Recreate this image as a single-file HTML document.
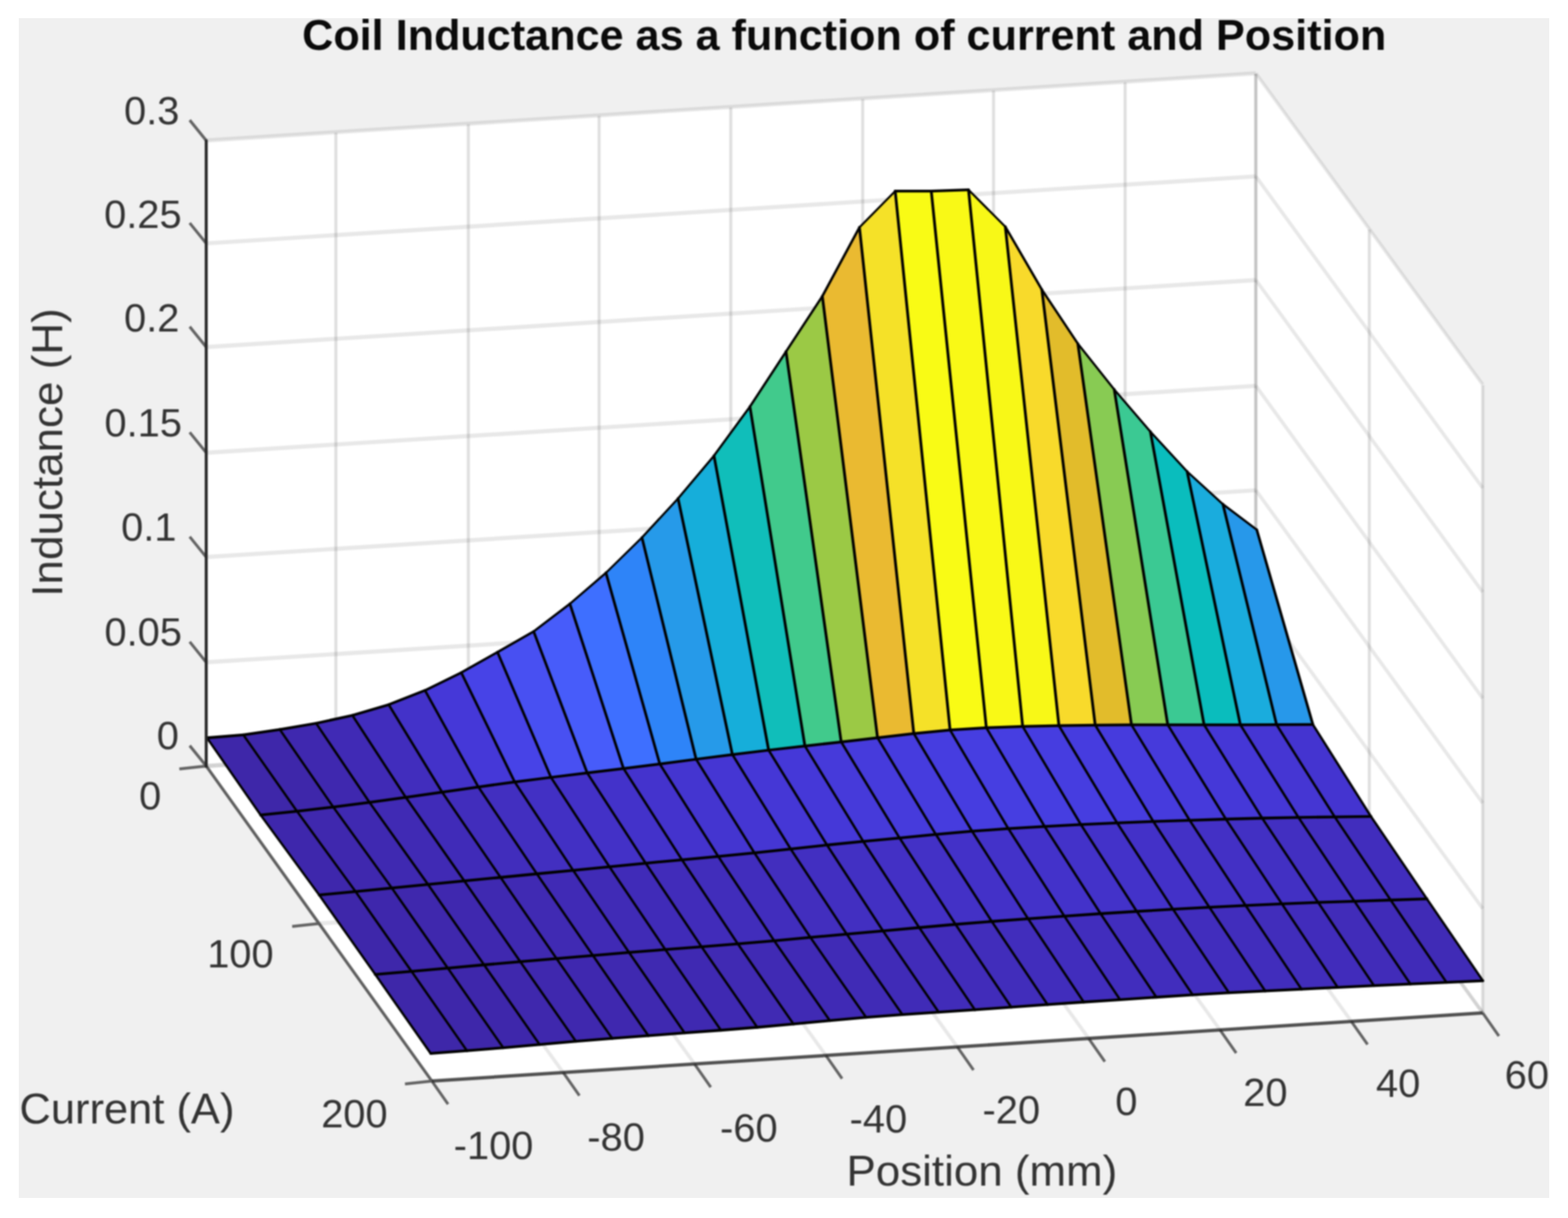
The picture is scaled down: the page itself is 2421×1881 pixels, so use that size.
<!DOCTYPE html>
<html lang="en"><head><meta charset="utf-8"><title>Coil Inductance as a function of current and Position</title>
<style>html,body{margin:0;padding:0;background:#fff}svg{display:block}</style></head>
<body>
<svg width="2421" height="1881" viewBox="0 0 2421 1881" font-family="'Liberation Sans', sans-serif">
<rect x="0" y="0" width="2421" height="1881" fill="#ffffff"/>
<rect x="29" y="28" width="2363" height="1822" fill="#f0f0f0"/>
<clipPath id="fig"><rect x="29" y="28" width="2363" height="1822"/></clipPath>
<filter id="soft" x="0" y="0" width="2421" height="1881" filterUnits="userSpaceOnUse" color-interpolation-filters="sRGB"><feGaussianBlur stdDeviation="1.3"/></filter>
<g clip-path="url(#fig)">
<g filter="url(#soft)">
<rect x="0" y="0" width="2421" height="1881" fill="#f0f0f0"/>
<polygon points="318.4,1183.0 1939.1,1080.0 1939.1,114.2 318.4,217.9" fill="#ffffff"/>
<polygon points="1939.1,1080.0 2289.3,1564.2 2289.3,594.8 1939.1,114.2" fill="#ffffff"/>
<polygon points="318.4,1183.0 1939.1,1080.0 2289.3,1564.2 666.8,1669.5" fill="#ffffff"/>
<path d="M318.4 1183.0L318.4 217.9" stroke="#262626" stroke-opacity="0.150" stroke-width="4.70" fill="none"/>
<path d="M318.4 1183.0L666.8 1669.5" stroke="#262626" stroke-opacity="0.105" stroke-width="5.40" fill="none"/>
<path d="M518.6 1170.1L518.6 204.9" stroke="#262626" stroke-opacity="0.150" stroke-width="4.70" fill="none"/>
<path d="M518.6 1170.1L869.6 1656.3" stroke="#262626" stroke-opacity="0.105" stroke-width="5.40" fill="none"/>
<path d="M723.1 1157.2L723.1 192.0" stroke="#262626" stroke-opacity="0.150" stroke-width="4.70" fill="none"/>
<path d="M723.1 1157.2L1072.4 1643.2" stroke="#262626" stroke-opacity="0.105" stroke-width="5.40" fill="none"/>
<path d="M925.0 1144.4L925.0 179.0" stroke="#262626" stroke-opacity="0.150" stroke-width="4.70" fill="none"/>
<path d="M925.0 1144.4L1275.2 1630.0" stroke="#262626" stroke-opacity="0.105" stroke-width="5.40" fill="none"/>
<path d="M1128.3 1131.5L1128.3 166.1" stroke="#262626" stroke-opacity="0.150" stroke-width="4.70" fill="none"/>
<path d="M1128.3 1131.5L1478.1 1616.8" stroke="#262626" stroke-opacity="0.105" stroke-width="5.40" fill="none"/>
<path d="M1332.0 1118.6L1332.0 153.1" stroke="#262626" stroke-opacity="0.150" stroke-width="4.70" fill="none"/>
<path d="M1332.0 1118.6L1680.9 1603.7" stroke="#262626" stroke-opacity="0.105" stroke-width="5.40" fill="none"/>
<path d="M1534.0 1105.8L1534.0 140.1" stroke="#262626" stroke-opacity="0.150" stroke-width="4.70" fill="none"/>
<path d="M1534.0 1105.8L1883.7 1590.5" stroke="#262626" stroke-opacity="0.105" stroke-width="5.40" fill="none"/>
<path d="M1737.2 1092.9L1737.2 127.2" stroke="#262626" stroke-opacity="0.150" stroke-width="4.70" fill="none"/>
<path d="M1737.2 1092.9L2086.5 1577.4" stroke="#262626" stroke-opacity="0.105" stroke-width="5.40" fill="none"/>
<path d="M1938.8 1080.0L1938.8 114.2" stroke="#262626" stroke-opacity="0.150" stroke-width="4.70" fill="none"/>
<path d="M1938.8 1080.0L2289.3 1564.2" stroke="#262626" stroke-opacity="0.105" stroke-width="5.40" fill="none"/>
<path d="M318.4 1183.0L1939.1 1080.0" stroke="#262626" stroke-opacity="0.105" stroke-width="6.40" fill="none"/>
<path d="M1939.1 1080.0L2289.3 1564.2" stroke="#262626" stroke-opacity="0.105" stroke-width="5.40" fill="none"/>
<path d="M318.4 1022.8L1939.1 919.6" stroke="#262626" stroke-opacity="0.105" stroke-width="6.40" fill="none"/>
<path d="M1939.1 919.6L2289.3 1403.2" stroke="#262626" stroke-opacity="0.105" stroke-width="5.40" fill="none"/>
<path d="M318.4 860.3L1939.1 757.1" stroke="#262626" stroke-opacity="0.105" stroke-width="6.40" fill="none"/>
<path d="M1939.1 757.1L2289.3 1240.1" stroke="#262626" stroke-opacity="0.105" stroke-width="5.40" fill="none"/>
<path d="M318.4 699.2L1939.1 595.9" stroke="#262626" stroke-opacity="0.105" stroke-width="6.40" fill="none"/>
<path d="M1939.1 595.9L2289.3 1078.3" stroke="#262626" stroke-opacity="0.105" stroke-width="5.40" fill="none"/>
<path d="M318.4 536.0L1939.1 432.5" stroke="#262626" stroke-opacity="0.105" stroke-width="6.40" fill="none"/>
<path d="M1939.1 432.5L2289.3 914.3" stroke="#262626" stroke-opacity="0.105" stroke-width="5.40" fill="none"/>
<path d="M318.4 375.9L1939.1 272.4" stroke="#262626" stroke-opacity="0.105" stroke-width="6.40" fill="none"/>
<path d="M1939.1 272.4L2289.3 753.6" stroke="#262626" stroke-opacity="0.105" stroke-width="5.40" fill="none"/>
<path d="M318.4 217.0L1939.1 113.3" stroke="#262626" stroke-opacity="0.105" stroke-width="6.40" fill="none"/>
<path d="M1939.1 113.3L2289.3 593.9" stroke="#262626" stroke-opacity="0.105" stroke-width="5.40" fill="none"/>
<path d="M1939.1 1080.0L1939.1 114.2" stroke="#262626" stroke-opacity="0.150" stroke-width="4.70" fill="none"/>
<path d="M318.4 1183.0L1939.1 1080.0" stroke="#262626" stroke-opacity="0.105" stroke-width="6.40" fill="none"/>
<path d="M2114.2 1322.1L2114.2 354.5" stroke="#262626" stroke-opacity="0.150" stroke-width="4.70" fill="none"/>
<path d="M492.6 1426.2L2114.2 1322.1" stroke="#262626" stroke-opacity="0.105" stroke-width="6.40" fill="none"/>
<path d="M2289.3 1564.2L2289.3 594.8" stroke="#262626" stroke-opacity="0.150" stroke-width="4.70" fill="none"/>
<path d="M666.8 1669.5L2289.3 1564.2" stroke="#262626" stroke-opacity="0.105" stroke-width="6.40" fill="none"/>
<g stroke-width="1" stroke-linejoin="round">
<polygon points="319.6,1139.5 375.8,1134.9 458.5,1252.8 402.5,1258.7" fill="#3e27a9" stroke="#3e27a9"/>
<polygon points="375.8,1134.9 432.0,1126.6 514.5,1246.3 458.5,1252.8" fill="#3e27aa" stroke="#3e27aa"/>
<polygon points="432.0,1126.6 488.1,1117.0 570.6,1239.2 514.5,1246.3" fill="#3f28af" stroke="#3f28af"/>
<polygon points="488.1,1117.0 544.1,1104.7 626.6,1231.4 570.6,1239.2" fill="#402ab5" stroke="#402ab5"/>
<polygon points="544.1,1104.7 600.2,1088.2 682.6,1223.3 626.6,1231.4" fill="#412dbd" stroke="#412dbd"/>
<polygon points="600.2,1088.2 656.2,1066.2 738.6,1215.3 682.6,1223.3" fill="#4332c9" stroke="#4332c9"/>
<polygon points="656.2,1066.2 712.2,1038.7 794.7,1207.6 738.6,1215.3" fill="#4538d8" stroke="#4538d8"/>
<polygon points="712.2,1038.7 768.1,1007.1 850.7,1200.5 794.7,1207.6" fill="#4743e7" stroke="#4743e7"/>
<polygon points="768.1,1007.1 824.0,975.2 906.7,1193.7 850.7,1200.5" fill="#4850f2" stroke="#4850f2"/>
<polygon points="824.0,975.2 879.9,932.5 962.7,1186.8 906.7,1193.7" fill="#475cfa" stroke="#475cfa"/>
<polygon points="879.9,932.5 935.6,884.6 1018.7,1179.8 962.7,1186.8" fill="#3e6fff" stroke="#3e6fff"/>
<polygon points="935.6,884.6 991.2,830.2 1074.8,1172.5 1018.7,1179.8" fill="#2e84f8" stroke="#2e84f8"/>
<polygon points="991.2,830.2 1046.9,769.8 1130.8,1165.3 1074.8,1172.5" fill="#269ae9" stroke="#269ae9"/>
<polygon points="1046.9,769.8 1102.4,703.8 1186.8,1158.5 1130.8,1165.3" fill="#16aeda" stroke="#16aeda"/>
<polygon points="1102.4,703.8 1157.9,628.0 1242.8,1152.1 1186.8,1158.5" fill="#10beba" stroke="#10beba"/>
<polygon points="1157.9,628.0 1213.6,543.0 1298.8,1145.8 1242.8,1152.1" fill="#41ca8c" stroke="#41ca8c"/>
<polygon points="1213.6,543.0 1269.7,457.5 1354.9,1139.3 1298.8,1145.8" fill="#9bc945" stroke="#9bc945"/>
<polygon points="1269.7,457.5 1327.0,351.2 1410.9,1132.8 1354.9,1139.3" fill="#eaba31" stroke="#eaba31"/>
<polygon points="1327.0,351.2 1382.2,295.2 1466.9,1127.4 1410.9,1132.8" fill="#f5e128" stroke="#f5e128"/>
<polygon points="1382.2,295.2 1437.9,295.2 1522.9,1123.9 1466.9,1127.4" fill="#f9fb15" stroke="#f9fb15"/>
<polygon points="1437.9,295.2 1495.4,293.2 1579.0,1121.9 1522.9,1123.9" fill="#f9f916" stroke="#f9f916"/>
<polygon points="1495.4,293.2 1552.2,350.1 1635.0,1120.7 1579.0,1121.9" fill="#f8f817" stroke="#f8f817"/>
<polygon points="1552.2,350.1 1608.6,447.3 1691.0,1119.8 1635.0,1120.7" fill="#f8da2b" stroke="#f8da2b"/>
<polygon points="1608.6,447.3 1664.2,530.8 1747.0,1119.4 1691.0,1119.8" fill="#e2bc2b" stroke="#e2bc2b"/>
<polygon points="1664.2,530.8 1720.4,601.5 1803.0,1119.3 1747.0,1119.4" fill="#88cb53" stroke="#88cb53"/>
<polygon points="1720.4,601.5 1776.2,666.6 1859.1,1119.3 1803.0,1119.3" fill="#3bc993" stroke="#3bc993"/>
<polygon points="1776.2,666.6 1832.9,728.1 1915.1,1119.3 1859.1,1119.3" fill="#0abdbd" stroke="#0abdbd"/>
<polygon points="1832.9,728.1 1888.2,778.7 1971.1,1119.2 1915.1,1119.3" fill="#1aacdd" stroke="#1aacdd"/>
<polygon points="1888.2,778.7 1940.5,818.2 2027.1,1118.9 1971.1,1119.2" fill="#2798ea" stroke="#2798ea"/>
<polygon points="402.5,1258.7 458.5,1252.8 548.9,1376.8 492.9,1382.2" fill="#3e27ac" stroke="#3e27ac"/>
<polygon points="458.5,1252.8 514.5,1246.3 604.9,1371.3 548.9,1376.8" fill="#3f28ae" stroke="#3f28ae"/>
<polygon points="514.5,1246.3 570.6,1239.2 660.9,1365.9 604.9,1371.3" fill="#3f29b1" stroke="#3f29b1"/>
<polygon points="570.6,1239.2 626.6,1231.4 716.9,1360.4 660.9,1365.9" fill="#402ab4" stroke="#402ab4"/>
<polygon points="626.6,1231.4 682.6,1223.3 772.9,1355.0 716.9,1360.4" fill="#402bb8" stroke="#402bb8"/>
<polygon points="682.6,1223.3 738.6,1215.3 828.9,1349.5 772.9,1355.0" fill="#412dbc" stroke="#412dbc"/>
<polygon points="738.6,1215.3 794.7,1207.6 884.9,1344.1 828.9,1349.5" fill="#422fc0" stroke="#422fc0"/>
<polygon points="794.7,1207.6 850.7,1200.5 940.9,1338.6 884.9,1344.1" fill="#4230c4" stroke="#4230c4"/>
<polygon points="850.7,1200.5 906.7,1193.7 996.9,1333.1 940.9,1338.6" fill="#4331c7" stroke="#4331c7"/>
<polygon points="906.7,1193.7 962.7,1186.8 1052.9,1327.8 996.9,1333.1" fill="#4332ca" stroke="#4332ca"/>
<polygon points="962.7,1186.8 1018.7,1179.8 1108.9,1322.6 1052.9,1327.8" fill="#4433cd" stroke="#4433cd"/>
<polygon points="1018.7,1179.8 1074.8,1172.5 1164.9,1317.2 1108.9,1322.6" fill="#4435d0" stroke="#4435d0"/>
<polygon points="1074.8,1172.5 1130.8,1165.3 1220.9,1311.2 1164.9,1317.2" fill="#4536d3" stroke="#4536d3"/>
<polygon points="1130.8,1165.3 1186.8,1158.5 1276.9,1305.0 1220.9,1311.2" fill="#4537d6" stroke="#4537d6"/>
<polygon points="1186.8,1158.5 1242.8,1152.1 1332.9,1299.4 1276.9,1305.0" fill="#4538d8" stroke="#4538d8"/>
<polygon points="1242.8,1152.1 1298.8,1145.8 1388.9,1294.1 1332.9,1299.4" fill="#463ada" stroke="#463ada"/>
<polygon points="1298.8,1145.8 1354.9,1139.3 1444.9,1288.6 1388.9,1294.1" fill="#463bdc" stroke="#463bdc"/>
<polygon points="1354.9,1139.3 1410.9,1132.8 1500.9,1283.7 1444.9,1288.6" fill="#463cde" stroke="#463cde"/>
<polygon points="1410.9,1132.8 1466.9,1127.4 1556.8,1279.6 1500.9,1283.7" fill="#463de0" stroke="#463de0"/>
<polygon points="1466.9,1127.4 1522.9,1123.9 1612.8,1276.3 1556.8,1279.6" fill="#463ee1" stroke="#463ee1"/>
<polygon points="1522.9,1123.9 1579.0,1121.9 1668.8,1273.3 1612.8,1276.3" fill="#463ee1" stroke="#463ee1"/>
<polygon points="1579.0,1121.9 1635.0,1120.7 1724.8,1270.8 1668.8,1273.3" fill="#463de0" stroke="#463de0"/>
<polygon points="1635.0,1120.7 1691.0,1119.8 1780.8,1268.7 1724.8,1270.8" fill="#463cdf" stroke="#463cdf"/>
<polygon points="1691.0,1119.8 1747.0,1119.4 1836.8,1266.8 1780.8,1268.7" fill="#463bdd" stroke="#463bdd"/>
<polygon points="1747.0,1119.4 1803.0,1119.3 1892.8,1265.0 1836.8,1266.8" fill="#463adb" stroke="#463adb"/>
<polygon points="1803.0,1119.3 1859.1,1119.3 1948.8,1263.5 1892.8,1265.0" fill="#4538d8" stroke="#4538d8"/>
<polygon points="1859.1,1119.3 1915.1,1119.3 2004.8,1262.3 1948.8,1263.5" fill="#4537d6" stroke="#4537d6"/>
<polygon points="1915.1,1119.3 1971.1,1119.2 2060.8,1261.6 2004.8,1262.3" fill="#4536d3" stroke="#4536d3"/>
<polygon points="1971.1,1119.2 2027.1,1118.9 2116.8,1260.9 2060.8,1261.6" fill="#4434d0" stroke="#4434d0"/>
<polygon points="492.9,1382.2 548.9,1376.8 635.4,1500.1 579.4,1504.8" fill="#3e27aa" stroke="#3e27aa"/>
<polygon points="548.9,1376.8 604.9,1371.3 691.4,1495.1 635.4,1500.1" fill="#3e27ac" stroke="#3e27ac"/>
<polygon points="604.9,1371.3 660.9,1365.9 747.4,1490.0 691.4,1495.1" fill="#3f28ad" stroke="#3f28ad"/>
<polygon points="660.9,1365.9 716.9,1360.4 803.4,1485.2 747.4,1490.0" fill="#3f28af" stroke="#3f28af"/>
<polygon points="716.9,1360.4 772.9,1355.0 859.4,1480.4 803.4,1485.2" fill="#3f29b1" stroke="#3f29b1"/>
<polygon points="772.9,1355.0 828.9,1349.5 915.4,1475.6 859.4,1480.4" fill="#402ab3" stroke="#402ab3"/>
<polygon points="828.9,1349.5 884.9,1344.1 971.3,1470.9 915.4,1475.6" fill="#402ab5" stroke="#402ab5"/>
<polygon points="884.9,1344.1 940.9,1338.6 1027.3,1466.4 971.3,1470.9" fill="#402bb6" stroke="#402bb6"/>
<polygon points="940.9,1338.6 996.9,1333.1 1083.3,1462.2 1027.3,1466.4" fill="#402bb8" stroke="#402bb8"/>
<polygon points="996.9,1333.1 1052.9,1327.8 1139.3,1457.7 1083.3,1462.2" fill="#412cba" stroke="#412cba"/>
<polygon points="1052.9,1327.8 1108.9,1322.6 1195.3,1452.8 1139.3,1457.7" fill="#412dbb" stroke="#412dbb"/>
<polygon points="1108.9,1322.6 1164.9,1317.2 1251.3,1447.7 1195.3,1452.8" fill="#412dbd" stroke="#412dbd"/>
<polygon points="1164.9,1317.2 1220.9,1311.2 1307.3,1442.6 1251.3,1447.7" fill="#422ebe" stroke="#422ebe"/>
<polygon points="1220.9,1311.2 1276.9,1305.0 1363.3,1437.6 1307.3,1442.6" fill="#422fc1" stroke="#422fc1"/>
<polygon points="1276.9,1305.0 1332.9,1299.4 1419.3,1432.5 1363.3,1437.6" fill="#4230c3" stroke="#4230c3"/>
<polygon points="1332.9,1299.4 1388.9,1294.1 1475.3,1427.5 1419.3,1432.5" fill="#4330c5" stroke="#4330c5"/>
<polygon points="1388.9,1294.1 1444.9,1288.6 1531.3,1423.0 1475.3,1427.5" fill="#4331c6" stroke="#4331c6"/>
<polygon points="1444.9,1288.6 1500.9,1283.7 1587.3,1418.8 1531.3,1423.0" fill="#4331c8" stroke="#4331c8"/>
<polygon points="1500.9,1283.7 1556.8,1279.6 1643.3,1414.8 1587.3,1418.8" fill="#4332c9" stroke="#4332c9"/>
<polygon points="1556.8,1279.6 1612.8,1276.3 1699.3,1411.0 1643.3,1414.8" fill="#4332ca" stroke="#4332ca"/>
<polygon points="1612.8,1276.3 1668.8,1273.3 1755.2,1407.5 1699.3,1411.0" fill="#4332c9" stroke="#4332c9"/>
<polygon points="1668.8,1273.3 1724.8,1270.8 1811.2,1404.2 1755.2,1407.5" fill="#4332c9" stroke="#4332c9"/>
<polygon points="1724.8,1270.8 1780.8,1268.7 1867.2,1401.1 1811.2,1404.2" fill="#4331c8" stroke="#4331c8"/>
<polygon points="1780.8,1268.7 1836.8,1266.8 1923.2,1398.3 1867.2,1401.1" fill="#4331c6" stroke="#4331c6"/>
<polygon points="1836.8,1266.8 1892.8,1265.0 1979.2,1395.8 1923.2,1398.3" fill="#4330c5" stroke="#4330c5"/>
<polygon points="1892.8,1265.0 1948.8,1263.5 2035.2,1393.6 1979.2,1395.8" fill="#4230c3" stroke="#4230c3"/>
<polygon points="1948.8,1263.5 2004.8,1262.3 2091.2,1391.8 2035.2,1393.6" fill="#422fc1" stroke="#422fc1"/>
<polygon points="2004.8,1262.3 2060.8,1261.6 2147.2,1390.0 2091.2,1391.8" fill="#422ebf" stroke="#422ebf"/>
<polygon points="2060.8,1261.6 2116.8,1260.9 2203.2,1388.2 2147.2,1390.0" fill="#412dbd" stroke="#412dbd"/>
<polygon points="579.4,1504.8 635.4,1500.1 721.0,1622.7 665.0,1626.9" fill="#3e27a9" stroke="#3e27a9"/>
<polygon points="635.4,1500.1 691.4,1495.1 777.0,1618.1 721.0,1622.7" fill="#3e27aa" stroke="#3e27aa"/>
<polygon points="691.4,1495.1 747.4,1490.0 833.1,1613.1 777.0,1618.1" fill="#3e27ab" stroke="#3e27ab"/>
<polygon points="747.4,1490.0 803.4,1485.2 889.1,1608.1 833.1,1613.1" fill="#3f28ad" stroke="#3f28ad"/>
<polygon points="803.4,1485.2 859.4,1480.4 945.1,1603.6 889.1,1608.1" fill="#3f28ae" stroke="#3f28ae"/>
<polygon points="859.4,1480.4 915.4,1475.6 1001.1,1599.4 945.1,1603.6" fill="#3f28af" stroke="#3f28af"/>
<polygon points="915.4,1475.6 971.3,1470.9 1057.1,1595.2 1001.1,1599.4" fill="#3f29b0" stroke="#3f29b0"/>
<polygon points="971.3,1470.9 1027.3,1466.4 1113.1,1591.0 1057.1,1595.2" fill="#3f29b1" stroke="#3f29b1"/>
<polygon points="1027.3,1466.4 1083.3,1462.2 1169.2,1586.5 1113.1,1591.0" fill="#3f29b2" stroke="#3f29b2"/>
<polygon points="1083.3,1462.2 1139.3,1457.7 1225.2,1581.4 1169.2,1586.5" fill="#402ab3" stroke="#402ab3"/>
<polygon points="1139.3,1457.7 1195.3,1452.8 1281.2,1576.1 1225.2,1581.4" fill="#402ab4" stroke="#402ab4"/>
<polygon points="1195.3,1452.8 1251.3,1447.7 1337.2,1571.1 1281.2,1576.1" fill="#402ab5" stroke="#402ab5"/>
<polygon points="1251.3,1447.7 1307.3,1442.6 1393.2,1566.8 1337.2,1571.1" fill="#402bb6" stroke="#402bb6"/>
<polygon points="1307.3,1442.6 1363.3,1437.6 1449.3,1563.1 1393.2,1566.8" fill="#402bb7" stroke="#402bb7"/>
<polygon points="1363.3,1437.6 1419.3,1432.5 1505.3,1559.4 1449.3,1563.1" fill="#412cb9" stroke="#412cb9"/>
<polygon points="1419.3,1432.5 1475.3,1427.5 1561.3,1555.3 1505.3,1559.4" fill="#412cba" stroke="#412cba"/>
<polygon points="1475.3,1427.5 1531.3,1423.0 1617.3,1551.3 1561.3,1555.3" fill="#412dbb" stroke="#412dbb"/>
<polygon points="1531.3,1423.0 1587.3,1418.8 1673.3,1547.5 1617.3,1551.3" fill="#412dbc" stroke="#412dbc"/>
<polygon points="1587.3,1418.8 1643.3,1414.8 1729.3,1543.8 1673.3,1547.5" fill="#412dbd" stroke="#412dbd"/>
<polygon points="1643.3,1414.8 1699.3,1411.0 1785.4,1540.0 1729.3,1543.8" fill="#412dbd" stroke="#412dbd"/>
<polygon points="1699.3,1411.0 1755.2,1407.5 1841.4,1536.3 1785.4,1540.0" fill="#412dbd" stroke="#412dbd"/>
<polygon points="1755.2,1407.5 1811.2,1404.2 1897.4,1533.1 1841.4,1536.3" fill="#412dbd" stroke="#412dbd"/>
<polygon points="1811.2,1404.2 1867.2,1401.1 1953.4,1530.3 1897.4,1533.1" fill="#412dbd" stroke="#412dbd"/>
<polygon points="1867.2,1401.1 1923.2,1398.3 2009.4,1527.6 1953.4,1530.3" fill="#412dbc" stroke="#412dbc"/>
<polygon points="1923.2,1398.3 1979.2,1395.8 2065.5,1524.9 2009.4,1527.6" fill="#412dbb" stroke="#412dbb"/>
<polygon points="1979.2,1395.8 2035.2,1393.6 2121.5,1522.2 2065.5,1524.9" fill="#412cbb" stroke="#412cbb"/>
<polygon points="2035.2,1393.6 2091.2,1391.8 2177.5,1519.6 2121.5,1522.2" fill="#412cb9" stroke="#412cb9"/>
<polygon points="2091.2,1391.8 2147.2,1390.0 2233.5,1517.2 2177.5,1519.6" fill="#402bb8" stroke="#402bb8"/>
<polygon points="2147.2,1390.0 2203.2,1388.2 2289.5,1514.6 2233.5,1517.2" fill="#402bb6" stroke="#402bb6"/>
</g>
<g stroke="#000" fill="none" stroke-linecap="round">
<path d="M319.6 1139.5L375.8 1134.9" stroke-width="4.29"/>
<path d="M375.8 1134.9L432.0 1126.6" stroke-width="4.25"/>
<path d="M432.0 1126.6L488.1 1117.0" stroke-width="4.24"/>
<path d="M488.1 1117.0L544.1 1104.7" stroke-width="4.20"/>
<path d="M544.1 1104.7L600.2 1088.2" stroke-width="4.12"/>
<path d="M600.2 1088.2L656.2 1066.2" stroke-width="4.01"/>
<path d="M656.2 1066.2L712.2 1038.7" stroke-width="3.87"/>
<path d="M712.2 1038.7L768.1 1007.1" stroke-width="3.77"/>
<path d="M768.1 1007.1L824.0 975.2" stroke-width="3.76"/>
<path d="M824.0 975.2L879.9 932.5" stroke-width="3.49"/>
<path d="M879.9 932.5L935.6 884.6" stroke-width="3.37"/>
<path d="M935.6 884.6L991.2 830.2" stroke-width="3.22"/>
<path d="M991.2 830.2L1046.9 769.8" stroke-width="3.29"/>
<path d="M1046.9 769.8L1102.4 703.8" stroke-width="3.39"/>
<path d="M1102.4 703.8L1157.9 628.0" stroke-width="3.53"/>
<path d="M1157.9 628.0L1213.6 543.0" stroke-width="3.64"/>
<path d="M1213.6 543.0L1269.7 457.5" stroke-width="3.64"/>
<path d="M1269.7 457.5L1327.0 351.2" stroke-width="3.80"/>
<path d="M1327.0 351.2L1382.2 295.2" stroke-width="3.21"/>
<path d="M1382.2 295.2L1437.9 295.2" stroke-width="4.30"/>
<path d="M1437.9 295.2L1495.4 293.2" stroke-width="4.30"/>
<path d="M1495.4 293.2L1552.2 350.1" stroke-width="3.20"/>
<path d="M1552.2 350.1L1608.6 447.3" stroke-width="3.75"/>
<path d="M1608.6 447.3L1664.2 530.8" stroke-width="3.62"/>
<path d="M1664.2 530.8L1720.4 601.5" stroke-width="3.45"/>
<path d="M1720.4 601.5L1776.2 666.6" stroke-width="3.37"/>
<path d="M1776.2 666.6L1832.9 728.1" stroke-width="3.29"/>
<path d="M1832.9 728.1L1888.2 778.7" stroke-width="3.30"/>
<path d="M1888.2 778.7L1940.5 818.2" stroke-width="3.50"/>
<path d="M402.5 1258.7L458.5 1252.8" stroke-width="4.28"/>
<path d="M458.5 1252.8L514.5 1246.3" stroke-width="4.27"/>
<path d="M514.5 1246.3L570.6 1239.2" stroke-width="4.26"/>
<path d="M570.6 1239.2L626.6 1231.4" stroke-width="4.26"/>
<path d="M626.6 1231.4L682.6 1223.3" stroke-width="4.25"/>
<path d="M682.6 1223.3L738.6 1215.3" stroke-width="4.26"/>
<path d="M738.6 1215.3L794.7 1207.6" stroke-width="4.26"/>
<path d="M794.7 1207.6L850.7 1200.5" stroke-width="4.27"/>
<path d="M850.7 1200.5L906.7 1193.7" stroke-width="4.27"/>
<path d="M906.7 1193.7L962.7 1186.8" stroke-width="4.27"/>
<path d="M962.7 1186.8L1018.7 1179.8" stroke-width="4.27"/>
<path d="M1018.7 1179.8L1074.8 1172.5" stroke-width="4.26"/>
<path d="M1074.8 1172.5L1130.8 1165.3" stroke-width="4.26"/>
<path d="M1130.8 1165.3L1186.8 1158.5" stroke-width="4.27"/>
<path d="M1186.8 1158.5L1242.8 1152.1" stroke-width="4.27"/>
<path d="M1242.8 1152.1L1298.8 1145.8" stroke-width="4.27"/>
<path d="M1298.8 1145.8L1354.9 1139.3" stroke-width="4.27"/>
<path d="M1354.9 1139.3L1410.9 1132.8" stroke-width="4.27"/>
<path d="M1410.9 1132.8L1466.9 1127.4" stroke-width="4.28"/>
<path d="M1466.9 1127.4L1522.9 1123.9" stroke-width="4.29"/>
<path d="M1522.9 1123.9L1579.0 1121.9" stroke-width="4.30"/>
<path d="M1579.0 1121.9L1635.0 1120.7" stroke-width="4.30"/>
<path d="M1635.0 1120.7L1691.0 1119.8" stroke-width="4.30"/>
<path d="M1691.0 1119.8L1747.0 1119.4" stroke-width="4.30"/>
<path d="M1747.0 1119.4L1803.0 1119.3" stroke-width="4.30"/>
<path d="M1803.0 1119.3L1859.1 1119.3" stroke-width="4.30"/>
<path d="M1859.1 1119.3L1915.1 1119.3" stroke-width="4.30"/>
<path d="M1915.1 1119.3L1971.1 1119.2" stroke-width="4.30"/>
<path d="M1971.1 1119.2L2027.1 1118.9" stroke-width="4.30"/>
<path d="M492.9 1382.2L548.9 1376.8" stroke-width="4.28"/>
<path d="M548.9 1376.8L604.9 1371.3" stroke-width="4.28"/>
<path d="M604.9 1371.3L660.9 1365.9" stroke-width="4.28"/>
<path d="M660.9 1365.9L716.9 1360.4" stroke-width="4.28"/>
<path d="M716.9 1360.4L772.9 1355.0" stroke-width="4.28"/>
<path d="M772.9 1355.0L828.9 1349.5" stroke-width="4.28"/>
<path d="M828.9 1349.5L884.9 1344.1" stroke-width="4.28"/>
<path d="M884.9 1344.1L940.9 1338.6" stroke-width="4.28"/>
<path d="M940.9 1338.6L996.9 1333.1" stroke-width="4.28"/>
<path d="M996.9 1333.1L1052.9 1327.8" stroke-width="4.28"/>
<path d="M1052.9 1327.8L1108.9 1322.6" stroke-width="4.28"/>
<path d="M1108.9 1322.6L1164.9 1317.2" stroke-width="4.28"/>
<path d="M1164.9 1317.2L1220.9 1311.2" stroke-width="4.28"/>
<path d="M1220.9 1311.2L1276.9 1305.0" stroke-width="4.27"/>
<path d="M1276.9 1305.0L1332.9 1299.4" stroke-width="4.28"/>
<path d="M1332.9 1299.4L1388.9 1294.1" stroke-width="4.28"/>
<path d="M1388.9 1294.1L1444.9 1288.6" stroke-width="4.28"/>
<path d="M1444.9 1288.6L1500.9 1283.7" stroke-width="4.28"/>
<path d="M1500.9 1283.7L1556.8 1279.6" stroke-width="4.29"/>
<path d="M1556.8 1279.6L1612.8 1276.3" stroke-width="4.29"/>
<path d="M1612.8 1276.3L1668.8 1273.3" stroke-width="4.29"/>
<path d="M1668.8 1273.3L1724.8 1270.8" stroke-width="4.30"/>
<path d="M1724.8 1270.8L1780.8 1268.7" stroke-width="4.30"/>
<path d="M1780.8 1268.7L1836.8 1266.8" stroke-width="4.30"/>
<path d="M1836.8 1266.8L1892.8 1265.0" stroke-width="4.30"/>
<path d="M1892.8 1265.0L1948.8 1263.5" stroke-width="4.30"/>
<path d="M1948.8 1263.5L2004.8 1262.3" stroke-width="4.30"/>
<path d="M2004.8 1262.3L2060.8 1261.6" stroke-width="4.30"/>
<path d="M2060.8 1261.6L2116.8 1260.9" stroke-width="4.30"/>
<path d="M579.4 1504.8L635.4 1500.1" stroke-width="4.28"/>
<path d="M635.4 1500.1L691.4 1495.1" stroke-width="4.28"/>
<path d="M691.4 1495.1L747.4 1490.0" stroke-width="4.28"/>
<path d="M747.4 1490.0L803.4 1485.2" stroke-width="4.28"/>
<path d="M803.4 1485.2L859.4 1480.4" stroke-width="4.28"/>
<path d="M859.4 1480.4L915.4 1475.6" stroke-width="4.28"/>
<path d="M915.4 1475.6L971.3 1470.9" stroke-width="4.28"/>
<path d="M971.3 1470.9L1027.3 1466.4" stroke-width="4.29"/>
<path d="M1027.3 1466.4L1083.3 1462.2" stroke-width="4.29"/>
<path d="M1083.3 1462.2L1139.3 1457.7" stroke-width="4.29"/>
<path d="M1139.3 1457.7L1195.3 1452.8" stroke-width="4.28"/>
<path d="M1195.3 1452.8L1251.3 1447.7" stroke-width="4.28"/>
<path d="M1251.3 1447.7L1307.3 1442.6" stroke-width="4.28"/>
<path d="M1307.3 1442.6L1363.3 1437.6" stroke-width="4.28"/>
<path d="M1363.3 1437.6L1419.3 1432.5" stroke-width="4.28"/>
<path d="M1419.3 1432.5L1475.3 1427.5" stroke-width="4.28"/>
<path d="M1475.3 1427.5L1531.3 1423.0" stroke-width="4.29"/>
<path d="M1531.3 1423.0L1587.3 1418.8" stroke-width="4.29"/>
<path d="M1587.3 1418.8L1643.3 1414.8" stroke-width="4.29"/>
<path d="M1643.3 1414.8L1699.3 1411.0" stroke-width="4.29"/>
<path d="M1699.3 1411.0L1755.2 1407.5" stroke-width="4.29"/>
<path d="M1755.2 1407.5L1811.2 1404.2" stroke-width="4.29"/>
<path d="M1811.2 1404.2L1867.2 1401.1" stroke-width="4.29"/>
<path d="M1867.2 1401.1L1923.2 1398.3" stroke-width="4.29"/>
<path d="M1923.2 1398.3L1979.2 1395.8" stroke-width="4.30"/>
<path d="M1979.2 1395.8L2035.2 1393.6" stroke-width="4.30"/>
<path d="M2035.2 1393.6L2091.2 1391.8" stroke-width="4.30"/>
<path d="M2091.2 1391.8L2147.2 1390.0" stroke-width="4.30"/>
<path d="M2147.2 1390.0L2203.2 1388.2" stroke-width="4.30"/>
<path d="M665.0 1626.9L721.0 1622.7" stroke-width="4.29"/>
<path d="M721.0 1622.7L777.0 1618.1" stroke-width="4.29"/>
<path d="M777.0 1618.1L833.1 1613.1" stroke-width="4.28"/>
<path d="M833.1 1613.1L889.1 1608.1" stroke-width="4.28"/>
<path d="M889.1 1608.1L945.1 1603.6" stroke-width="4.29"/>
<path d="M945.1 1603.6L1001.1 1599.4" stroke-width="4.29"/>
<path d="M1001.1 1599.4L1057.1 1595.2" stroke-width="4.29"/>
<path d="M1057.1 1595.2L1113.1 1591.0" stroke-width="4.29"/>
<path d="M1113.1 1591.0L1169.2 1586.5" stroke-width="4.29"/>
<path d="M1169.2 1586.5L1225.2 1581.4" stroke-width="4.28"/>
<path d="M1225.2 1581.4L1281.2 1576.1" stroke-width="4.28"/>
<path d="M1281.2 1576.1L1337.2 1571.1" stroke-width="4.28"/>
<path d="M1337.2 1571.1L1393.2 1566.8" stroke-width="4.29"/>
<path d="M1393.2 1566.8L1449.3 1563.1" stroke-width="4.29"/>
<path d="M1449.3 1563.1L1505.3 1559.4" stroke-width="4.29"/>
<path d="M1505.3 1559.4L1561.3 1555.3" stroke-width="4.29"/>
<path d="M1561.3 1555.3L1617.3 1551.3" stroke-width="4.29"/>
<path d="M1617.3 1551.3L1673.3 1547.5" stroke-width="4.29"/>
<path d="M1673.3 1547.5L1729.3 1543.8" stroke-width="4.29"/>
<path d="M1729.3 1543.8L1785.4 1540.0" stroke-width="4.29"/>
<path d="M1785.4 1540.0L1841.4 1536.3" stroke-width="4.29"/>
<path d="M1841.4 1536.3L1897.4 1533.1" stroke-width="4.29"/>
<path d="M1897.4 1533.1L1953.4 1530.3" stroke-width="4.29"/>
<path d="M1953.4 1530.3L2009.4 1527.6" stroke-width="4.29"/>
<path d="M2009.4 1527.6L2065.5 1524.9" stroke-width="4.29"/>
<path d="M2065.5 1524.9L2121.5 1522.2" stroke-width="4.29"/>
<path d="M2121.5 1522.2L2177.5 1519.6" stroke-width="4.30"/>
<path d="M2177.5 1519.6L2233.5 1517.2" stroke-width="4.30"/>
<path d="M2233.5 1517.2L2289.5 1514.6" stroke-width="4.30"/>
<path d="M319.6 1139.5L402.5 1258.7" stroke-width="3.58"/>
<path d="M402.5 1258.7L492.9 1382.2" stroke-width="3.53"/>
<path d="M492.9 1382.2L579.4 1504.8" stroke-width="3.57"/>
<path d="M579.4 1504.8L665.0 1626.9" stroke-width="3.58"/>
<path d="M375.8 1134.9L458.5 1252.8" stroke-width="3.57"/>
<path d="M458.5 1252.8L548.9 1376.8" stroke-width="3.54"/>
<path d="M548.9 1376.8L635.4 1500.1" stroke-width="3.57"/>
<path d="M635.4 1500.1L721.0 1622.7" stroke-width="3.58"/>
<path d="M432.0 1126.6L514.5 1246.3" stroke-width="3.59"/>
<path d="M514.5 1246.3L604.9 1371.3" stroke-width="3.54"/>
<path d="M604.9 1371.3L691.4 1495.1" stroke-width="3.58"/>
<path d="M691.4 1495.1L777.0 1618.1" stroke-width="3.58"/>
<path d="M488.1 1117.0L570.6 1239.2" stroke-width="3.61"/>
<path d="M570.6 1239.2L660.9 1365.9" stroke-width="3.56"/>
<path d="M660.9 1365.9L747.4 1490.0" stroke-width="3.58"/>
<path d="M747.4 1490.0L833.1 1613.1" stroke-width="3.58"/>
<path d="M544.1 1104.7L626.6 1231.4" stroke-width="3.65"/>
<path d="M626.6 1231.4L716.9 1360.4" stroke-width="3.58"/>
<path d="M716.9 1360.4L803.4 1485.2" stroke-width="3.59"/>
<path d="M803.4 1485.2L889.1 1608.1" stroke-width="3.58"/>
<path d="M600.2 1088.2L682.6 1223.3" stroke-width="3.70"/>
<path d="M682.6 1223.3L772.9 1355.0" stroke-width="3.60"/>
<path d="M772.9 1355.0L859.4 1480.4" stroke-width="3.59"/>
<path d="M859.4 1480.4L945.1 1603.6" stroke-width="3.58"/>
<path d="M656.2 1066.2L738.6 1215.3" stroke-width="3.78"/>
<path d="M738.6 1215.3L828.9 1349.5" stroke-width="3.62"/>
<path d="M828.9 1349.5L915.4 1475.6" stroke-width="3.60"/>
<path d="M915.4 1475.6L1001.1 1599.4" stroke-width="3.59"/>
<path d="M712.2 1038.7L794.7 1207.6" stroke-width="3.88"/>
<path d="M794.7 1207.6L884.9 1344.1" stroke-width="3.63"/>
<path d="M884.9 1344.1L971.3 1470.9" stroke-width="3.60"/>
<path d="M971.3 1470.9L1057.1 1595.2" stroke-width="3.59"/>
<path d="M768.1 1007.1L850.7 1200.5" stroke-width="3.96"/>
<path d="M850.7 1200.5L940.9 1338.6" stroke-width="3.64"/>
<path d="M940.9 1338.6L1027.3 1466.4" stroke-width="3.61"/>
<path d="M1027.3 1466.4L1113.1 1591.0" stroke-width="3.59"/>
<path d="M824.0 975.2L906.7 1193.7" stroke-width="4.02"/>
<path d="M906.7 1193.7L996.9 1333.1" stroke-width="3.65"/>
<path d="M996.9 1333.1L1083.3 1462.2" stroke-width="3.62"/>
<path d="M1083.3 1462.2L1169.2 1586.5" stroke-width="3.59"/>
<path d="M879.9 932.5L962.7 1186.8" stroke-width="4.09"/>
<path d="M962.7 1186.8L1052.9 1327.8" stroke-width="3.66"/>
<path d="M1052.9 1327.8L1139.3 1457.7" stroke-width="3.62"/>
<path d="M1139.3 1457.7L1225.2 1581.4" stroke-width="3.58"/>
<path d="M935.6 884.6L1018.7 1179.8" stroke-width="4.14"/>
<path d="M1018.7 1179.8L1108.9 1322.6" stroke-width="3.67"/>
<path d="M1108.9 1322.6L1195.3 1452.8" stroke-width="3.63"/>
<path d="M1195.3 1452.8L1281.2 1576.1" stroke-width="3.58"/>
<path d="M991.2 830.2L1074.8 1172.5" stroke-width="4.18"/>
<path d="M1074.8 1172.5L1164.9 1317.2" stroke-width="3.69"/>
<path d="M1164.9 1317.2L1251.3 1447.7" stroke-width="3.63"/>
<path d="M1251.3 1447.7L1337.2 1571.1" stroke-width="3.58"/>
<path d="M1046.9 769.8L1130.8 1165.3" stroke-width="4.21"/>
<path d="M1130.8 1165.3L1220.9 1311.2" stroke-width="3.69"/>
<path d="M1220.9 1311.2L1307.3 1442.6" stroke-width="3.64"/>
<path d="M1307.3 1442.6L1393.2 1566.8" stroke-width="3.59"/>
<path d="M1102.4 703.8L1186.8 1158.5" stroke-width="4.23"/>
<path d="M1186.8 1158.5L1276.9 1305.0" stroke-width="3.70"/>
<path d="M1276.9 1305.0L1363.3 1437.6" stroke-width="3.64"/>
<path d="M1363.3 1437.6L1449.3 1563.1" stroke-width="3.60"/>
<path d="M1157.9 628.0L1242.8 1152.1" stroke-width="4.24"/>
<path d="M1242.8 1152.1L1332.9 1299.4" stroke-width="3.70"/>
<path d="M1332.9 1299.4L1419.3 1432.5" stroke-width="3.65"/>
<path d="M1419.3 1432.5L1505.3 1559.4" stroke-width="3.61"/>
<path d="M1213.6 543.0L1298.8 1145.8" stroke-width="4.26"/>
<path d="M1298.8 1145.8L1388.9 1294.1" stroke-width="3.71"/>
<path d="M1388.9 1294.1L1475.3 1427.5" stroke-width="3.65"/>
<path d="M1475.3 1427.5L1561.3 1555.3" stroke-width="3.61"/>
<path d="M1269.7 457.5L1354.9 1139.3" stroke-width="4.27"/>
<path d="M1354.9 1139.3L1444.9 1288.6" stroke-width="3.71"/>
<path d="M1444.9 1288.6L1531.3 1423.0" stroke-width="3.66"/>
<path d="M1531.3 1423.0L1617.3 1551.3" stroke-width="3.62"/>
<path d="M1327.0 351.2L1410.9 1132.8" stroke-width="4.27"/>
<path d="M1410.9 1132.8L1500.9 1283.7" stroke-width="3.72"/>
<path d="M1500.9 1283.7L1587.3 1418.8" stroke-width="3.66"/>
<path d="M1587.3 1418.8L1673.3 1547.5" stroke-width="3.62"/>
<path d="M1382.2 295.2L1466.9 1127.4" stroke-width="4.28"/>
<path d="M1466.9 1127.4L1556.8 1279.6" stroke-width="3.73"/>
<path d="M1556.8 1279.6L1643.3 1414.8" stroke-width="3.66"/>
<path d="M1643.3 1414.8L1729.3 1543.8" stroke-width="3.62"/>
<path d="M1437.9 295.2L1522.9 1123.9" stroke-width="4.28"/>
<path d="M1522.9 1123.9L1612.8 1276.3" stroke-width="3.73"/>
<path d="M1612.8 1276.3L1699.3 1411.0" stroke-width="3.66"/>
<path d="M1699.3 1411.0L1785.4 1540.0" stroke-width="3.62"/>
<path d="M1495.4 293.2L1579.0 1121.9" stroke-width="4.28"/>
<path d="M1579.0 1121.9L1668.8 1273.3" stroke-width="3.73"/>
<path d="M1668.8 1273.3L1755.2 1407.5" stroke-width="3.66"/>
<path d="M1755.2 1407.5L1841.4 1536.3" stroke-width="3.62"/>
<path d="M1552.2 350.1L1635.0 1120.7" stroke-width="4.27"/>
<path d="M1635.0 1120.7L1724.8 1270.8" stroke-width="3.72"/>
<path d="M1724.8 1270.8L1811.2 1404.2" stroke-width="3.65"/>
<path d="M1811.2 1404.2L1897.4 1533.1" stroke-width="3.62"/>
<path d="M1608.6 447.3L1691.0 1119.8" stroke-width="4.27"/>
<path d="M1691.0 1119.8L1780.8 1268.7" stroke-width="3.71"/>
<path d="M1780.8 1268.7L1867.2 1401.1" stroke-width="3.64"/>
<path d="M1867.2 1401.1L1953.4 1530.3" stroke-width="3.62"/>
<path d="M1664.2 530.8L1747.0 1119.4" stroke-width="4.26"/>
<path d="M1747.0 1119.4L1836.8 1266.8" stroke-width="3.70"/>
<path d="M1836.8 1266.8L1923.2 1398.3" stroke-width="3.64"/>
<path d="M1923.2 1398.3L2009.4 1527.6" stroke-width="3.62"/>
<path d="M1720.4 601.5L1803.0 1119.3" stroke-width="4.25"/>
<path d="M1803.0 1119.3L1892.8 1265.0" stroke-width="3.69"/>
<path d="M1892.8 1265.0L1979.2 1395.8" stroke-width="3.63"/>
<path d="M1979.2 1395.8L2065.5 1524.9" stroke-width="3.62"/>
<path d="M1776.2 666.6L1859.1 1119.3" stroke-width="4.23"/>
<path d="M1859.1 1119.3L1948.8 1263.5" stroke-width="3.69"/>
<path d="M1948.8 1263.5L2035.2 1393.6" stroke-width="3.63"/>
<path d="M2035.2 1393.6L2121.5 1522.2" stroke-width="3.62"/>
<path d="M1832.9 728.1L1915.1 1119.3" stroke-width="4.21"/>
<path d="M1915.1 1119.3L2004.8 1262.3" stroke-width="3.68"/>
<path d="M2004.8 1262.3L2091.2 1391.8" stroke-width="3.62"/>
<path d="M2091.2 1391.8L2177.5 1519.6" stroke-width="3.61"/>
<path d="M1888.2 778.7L1971.1 1119.2" stroke-width="4.18"/>
<path d="M1971.1 1119.2L2060.8 1261.6" stroke-width="3.67"/>
<path d="M2060.8 1261.6L2147.2 1390.0" stroke-width="3.61"/>
<path d="M2147.2 1390.0L2233.5 1517.2" stroke-width="3.61"/>
<path d="M1940.5 818.2L2027.1 1118.9" stroke-width="4.13"/>
<path d="M2027.1 1118.9L2116.8 1260.9" stroke-width="3.67"/>
<path d="M2116.8 1260.9L2203.2 1388.2" stroke-width="3.61"/>
<path d="M2203.2 1388.2L2289.5 1514.6" stroke-width="3.60"/>
</g>
<path d="M318.4 1183.0 L318.4 217.9" stroke="#262626" stroke-width="4.5" fill="none" stroke-linecap="square"/>
<path d="M666.8 1669.5 L2289.3 1564.2" stroke="#262626" stroke-width="5.0" stroke-opacity="0.78" fill="none"/>
<path d="M318.4 1183.0 L666.8 1669.5 M318.4 1183.0 L292.9 1151.5 M318.4 1022.8 L292.9 991.2 M318.4 860.3 L292.9 828.8 M318.4 699.2 L292.9 667.7 M318.4 536.0 L292.9 504.5 M318.4 375.9 L292.9 344.4 M318.4 217.0 L292.9 185.5 M318.4 1183.0 L276.9 1187.5 M492.6 1426.2 L451.1 1430.8 M666.8 1669.5 L625.3 1674.0 M666.8 1669.5 L691.8 1705.2 M869.6 1656.3 L894.6 1692.0 M1072.4 1643.2 L1097.4 1678.9 M1275.2 1630.0 L1300.2 1665.7 M1478.1 1616.8 L1503.1 1652.5 M1680.9 1603.7 L1705.9 1639.4 M1883.7 1590.5 L1908.7 1626.2 M2086.5 1577.4 L2111.5 1613.1 M2289.3 1564.2 L2314.3 1599.9" stroke="#262626" stroke-width="4.4" stroke-opacity="0.7" fill="none"/>
<text x="466.5" y="77.2" font-size="66.5" text-anchor="start" fill="#0a0a0a" textLength="1674.0" lengthAdjust="spacingAndGlyphs" font-weight="bold">Coil Inductance as a function of current and Position</text>
<text x="259.1" y="1157.0" font-size="61.5" text-anchor="middle" fill="#333333">0</text>
<text x="221.1" y="996.8" font-size="61.5" text-anchor="middle" fill="#333333">0.05</text>
<text x="229.8" y="834.5" font-size="61.5" text-anchor="middle" fill="#333333">0.1</text>
<text x="221.1" y="674.0" font-size="61.5" text-anchor="middle" fill="#333333">0.15</text>
<text x="234.3" y="511.5" font-size="61.5" text-anchor="middle" fill="#333333">0.2</text>
<text x="220.6" y="352.0" font-size="61.5" text-anchor="middle" fill="#333333">0.25</text>
<text x="234.3" y="191.9" font-size="61.5" text-anchor="middle" fill="#333333">0.3</text>
<text x="231.8" y="1249.5" font-size="61.5" text-anchor="middle" fill="#333333">0</text>
<text x="371.2" y="1494.0" font-size="61.5" text-anchor="middle" fill="#333333">100</text>
<text x="547.2" y="1740.6" font-size="61.5" text-anchor="middle" fill="#333333">200</text>
<text x="762.0" y="1790.3" font-size="61.5" text-anchor="middle" fill="#333333">-100</text>
<text x="951.2" y="1776.9" font-size="61.5" text-anchor="middle" fill="#333333">-80</text>
<text x="1156.2" y="1763.3" font-size="61.5" text-anchor="middle" fill="#333333">-60</text>
<text x="1356.2" y="1749.0" font-size="61.5" text-anchor="middle" fill="#333333">-40</text>
<text x="1561.5" y="1735.4" font-size="61.5" text-anchor="middle" fill="#333333">-20</text>
<text x="1739.0" y="1721.5" font-size="61.5" text-anchor="middle" fill="#333333">0</text>
<text x="1953.8" y="1707.9" font-size="61.5" text-anchor="middle" fill="#333333">20</text>
<text x="2158.8" y="1694.3" font-size="61.5" text-anchor="middle" fill="#333333">40</text>
<text x="2357.5" y="1680.7" font-size="61.5" text-anchor="middle" fill="#333333">60</text>
<text x="95.6" y="921.5" font-size="67.0" text-anchor="start" fill="#333333" textLength="445.5" lengthAdjust="spacingAndGlyphs" transform="rotate(-90 95.6 921.5)">Inductance (H)</text>
<text x="30.0" y="1735.1" font-size="67.0" text-anchor="start" fill="#333333" textLength="332.0" lengthAdjust="spacingAndGlyphs">Current (A)</text>
<text x="1307.0" y="1831.0" font-size="67.0" text-anchor="start" fill="#333333" textLength="418.0" lengthAdjust="spacingAndGlyphs">Position (mm)</text>
</g>
</g>
</svg>
</body></html>
